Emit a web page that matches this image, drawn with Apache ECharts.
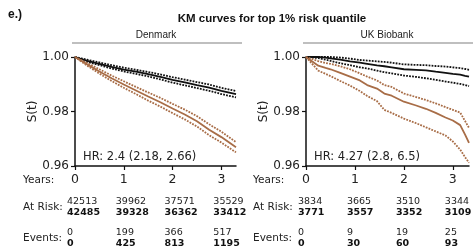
<!DOCTYPE html>
<html>
<head>
<meta charset="utf-8">
<script src="https://cdn.jsdelivr.net/npm/echarts@6/dist/echarts.min.js"></script>
<style>
  html, body { margin: 0; padding: 0; background: #fff; }
  #main { width: 473px; height: 247px; }
</style>
</head>
<body>
<div id="main"></div>
<script>
// ---- data ----
const years = [0, 1, 2, 3];

// Denmark
const dkX = [0, 0.25, 0.5, 0.75, 1, 1.25, 1.5, 1.75, 2, 2.25, 2.5, 2.75, 3, 3.3];
const dkRest = [1.0, 0.9986, 0.9975, 0.9964, 0.9954, 0.9946, 0.9937, 0.9927, 0.9916, 0.9907, 0.9897, 0.9888, 0.9876, 0.9864];
const dkRestHi = [1.0, 0.9990, 0.9980, 0.9970, 0.9961, 0.9953, 0.9945, 0.9936, 0.9926, 0.9917, 0.9908, 0.9899, 0.9887, 0.9875];
const dkRestLo = [1.0, 0.9982, 0.9970, 0.9958, 0.9947, 0.9938, 0.9929, 0.9918, 0.9906, 0.9896, 0.9886, 0.9876, 0.9864, 0.9852];
const dkTop = [1.0, 0.9973, 0.9947, 0.9922, 0.9899, 0.9877, 0.9855, 0.9834, 0.9811, 0.9789, 0.9764, 0.9733, 0.9706, 0.9669];
const dkTopHi = [1.0, 0.9978, 0.9955, 0.9932, 0.9911, 0.9890, 0.9870, 0.9850, 0.9828, 0.9807, 0.9783, 0.9753, 0.9726, 0.9688];
const dkTopLo = [1.0, 0.9968, 0.9939, 0.9912, 0.9887, 0.9864, 0.9840, 0.9818, 0.9794, 0.9771, 0.9745, 0.9713, 0.9686, 0.9650];

// UK Biobank
const ukX = [0, 0.25, 0.4, 0.5, 0.7, 0.9, 1.1, 1.25, 1.45, 1.6, 1.75, 2.0, 2.25, 2.45, 2.65, 2.85, 3.0, 3.15, 3.25, 3.33];
const ukRest = [1.0, 1.0, 0.9998, 0.9995, 0.9990, 0.9984, 0.9979, 0.9975, 0.9969, 0.9966, 0.9962, 0.9955, 0.9953, 0.9951, 0.9946, 0.9942, 0.9938, 0.9935, 0.9931, 0.9928];
const ukRestHi = [1.0, 1.0, 1.0, 1.0, 0.9998, 0.9994, 0.9989, 0.9987, 0.9984, 0.9982, 0.9979, 0.9973, 0.9971, 0.9970, 0.9967, 0.9965, 0.9962, 0.9959, 0.9956, 0.9953];
const ukRestLo = [1.0, 0.9996, 0.9990, 0.9986, 0.9977, 0.9970, 0.9962, 0.9958, 0.9950, 0.9944, 0.9940, 0.9932, 0.9927, 0.9922, 0.9916, 0.9910, 0.9906, 0.9901, 0.9897, 0.9893];
const ukTop = [1.0, 0.9968, 0.9960, 0.9955, 0.9942, 0.9928, 0.9914, 0.9897, 0.9884, 0.9866, 0.9858, 0.9836, 0.9822, 0.9810, 0.9795, 0.9778, 0.9767, 0.9750, 0.9715, 0.9685];
const ukTopHi = [1.0, 0.9985, 0.9978, 0.9975, 0.9966, 0.9955, 0.9940, 0.9928, 0.9914, 0.9897, 0.9890, 0.9866, 0.9853, 0.9842, 0.9830, 0.9816, 0.9806, 0.9796, 0.9765, 0.9740];
const ukTopLo = [1.0, 0.9950, 0.9938, 0.9930, 0.9912, 0.9895, 0.9875, 0.9857, 0.9838, 0.9806, 0.9795, 0.9774, 0.9757, 0.9742, 0.9727, 0.9712, 0.9690, 0.9660, 0.9632, 0.9612];

// at-risk table (first row = rest, bold row = top 1%)
const dkRiskRest = [42513, 39962, 37571, 35529];
const dkRiskTop = [42485, 39328, 36362, 33412];
const dkEventsRest = [0, 199, 366, 517];
const dkEventsTop = [0, 425, 813, 1195];
const ukRiskRest = [3834, 3665, 3510, 3344];
const ukRiskTop = [3771, 3557, 3352, 3109];
const ukEventsRest = [0, 9, 19, 25];
const ukEventsTop = [0, 30, 60, 93];

const panelNames = ['Denmark', 'UK Biobank'];
const hrLabels = ['HR: 2.4 (2.18, 2.66)', 'HR: 4.27 (2.8, 6.5)'];

const BLACK = '#111111';
const BROWN = '#a86d47';
const FONT = 'DejaVu Sans';

const zip = (xs, ys) => xs.map((x, i) => [x, ys[i]]);

const panels = [
  { left: 75, width: 161, max: 3.3, x: dkX, rest: [dkRest, dkRestHi, dkRestLo], top: [dkTop, dkTopHi, dkTopLo],
    risk: [dkRiskRest, dkRiskTop], events: [dkEventsRest, dkEventsTop] },
  { left: 306, width: 163, max: 3.33, x: ukX, rest: [ukRest, ukRestHi, ukRestLo], top: [ukTop, ukTopHi, ukTopLo],
    risk: [ukRiskRest, ukRiskTop], events: [ukEventsRest, ukEventsTop] },
];

const axisCommon = {
  axisLine: { show: true, lineStyle: { color: BLACK, width: 1.5 } },
  axisTick: { show: true, length: 4, lineStyle: { color: BLACK, width: 1.2 } },
  splitLine: { show: false },
};

const option = {
  animation: false,
  backgroundColor: '#fff',
  grid: panels.map((p) => ({ left: p.left, width: p.width, top: 57, height: 109 })),
  xAxis: panels.map((p, i) => ({
    type: 'value',
    gridIndex: i,
    min: 0,
    max: p.max,
    interval: 1,
    ...axisCommon,
    axisLabel: {
      margin: 7,
      fontSize: 12.5,
      fontFamily: FONT,
      color: '#222',
      showMaxLabel: false,
      formatter: (v) => (Number.isInteger(v) ? String(v) : ''),
    },
  })),
  yAxis: panels.map((p, i) => ({
    type: 'value',
    gridIndex: i,
    min: 0.96,
    max: 1.0,
    interval: 0.02,
    ...axisCommon,
    name: 'S(t)',
    nameLocation: 'middle',
    nameGap: 36,
    nameTextStyle: { fontSize: 12, fontFamily: FONT, color: '#222' },
    axisLabel: {
      margin: 6,
      fontSize: 12,
      fontFamily: FONT,
      color: '#222',
      formatter: (v) => v.toFixed(2),
    },
  })),
  series: [],
};

panels.forEach((p, i) => {
  const add = (data, color, dotted) => {
    option.series.push({
      type: 'line',
      xAxisIndex: i,
      yAxisIndex: i,
      data: zip(p.x, data),
      showSymbol: false,
      silent: true,
      lineStyle: { color, width: dotted ? 1.8 : 1.8, type: dotted ? [1.8, 1.2] : 'solid' },
    });
  };
  add(p.rest[0], BLACK, false);
  add(p.rest[1], BLACK, true);
  add(p.rest[2], BLACK, true);
  add(p.top[0], BROWN, false);
  add(p.top[1], BROWN, true);
  add(p.top[2], BROWN, true);
});

const chart = echarts.init(document.getElementById('main'), null, { renderer: 'canvas' });
chart.setOption(option);

// ---- texts, table placed with the axes' own scale ----
const txt = (text, x, y, opts = {}) => ({
  type: 'text',
  x, y,
  silent: true,
  style: {
    text,
    fontSize: opts.size || 10,
    fontFamily: opts.family || FONT,
    fontWeight: opts.bold ? 'bold' : 'normal',
    fill: opts.color || '#222',
    align: opts.align || 'left',
    verticalAlign: 'middle',
  },
});

const graphic = [
  txt('e.)', 8, 15, { size: 12, bold: true, family: 'Liberation Sans', color: '#111' }),
  txt('KM curves for top 1% risk quantile', 272, 19, { size: 11.5, bold: true, family: 'Liberation Sans', align: 'center', color: '#111' }),
];

const stripLines = [[72, 242], [303, 473]];
panels.forEach((p, i) => {
  const [x0, x1] = stripLines[i];
  graphic.push({
    type: 'line', silent: true,
    shape: { x1: x0, y1: 43, x2: x1, y2: 43 },
    style: { stroke: '#aaaaaa', lineWidth: 1.5 },
  });
  graphic.push(txt(panelNames[i], (x0 + x1) / 2 - 1, 35, { size: 10, family: 'Liberation Sans', align: 'center' }));
  graphic.push(txt(hrLabels[i], p.left + 8, 157, { size: 11.5 }));

  const labX = i === 0 ? 23 : 253;
  graphic.push(txt('Years:', labX, 180, { size: 10.5 }));
  graphic.push(txt('At Risk:', labX, 207.5, { size: 10.5 }));
  graphic.push(txt('Events:', labX, 238.5, { size: 10.5 }));

  years.forEach((yr, k) => {
    const px = chart.convertToPixel({ xAxisIndex: i }, yr) - 8;
    graphic.push(txt(String(p.risk[0][k]), px, 202, { size: 9.5 }));
    graphic.push(txt(String(p.risk[1][k]), px, 213, { size: 9.5, bold: true, color: '#111' }));
    graphic.push(txt(String(p.events[0][k]), px, 233, { size: 9.5 }));
    graphic.push(txt(String(p.events[1][k]), px, 244, { size: 9.5, bold: true, color: '#111' }));
  });
});

chart.setOption({ graphic });
</script>
</body>
</html>
